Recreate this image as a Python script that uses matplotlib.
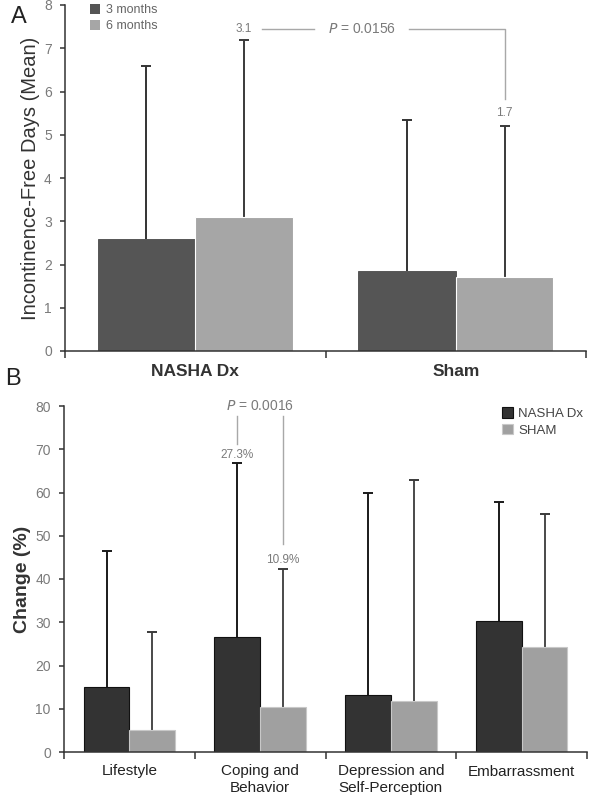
import matplotlib
matplotlib.use("Agg")
import matplotlib.pyplot as plt
import numpy as np

plt.rcParams['font.family'] = ['Liberation Sans', 'DejaVu Sans']

# panel A data
groups_a = ['NASHA Dx', 'Sham']
mean_3m = [2.6, 1.85]
mean_6m = [3.1, 1.7]
sd_3m = [4.0, 3.48]
sd_6m = [4.1, 3.5]
labels_a = ['3 months', '6 months']

# panel B data
domains = ['Lifestyle', 'Coping and\nBehavior', 'Depression and\nSelf-Perception', 'Embarrassment']
nasha = [15.1, 26.5, 13.1, 30.3]
nasha_sd = [31.4, 40.4, 46.9, 27.4]
sham = [5.1, 10.3, 11.7, 24.3]
sham_sd = [22.7, 32.1, 51.1, 30.7]
labels_b = ['NASHA Dx', 'SHAM']

axis_col = '#333333'
tick_col = '#7a7a7a'
note_col = '#a8a8a8'

fig = plt.figure(figsize=(5.89, 8), dpi=100)
axA = fig.add_axes([0.1104, 0.56125, 0.8845, 0.4325])
axB = fig.add_axes([0.1087, 0.06, 0.8880, 0.4325])


def style_axes(ax, ncat):
    for s in ['top', 'right']:
        ax.spines[s].set_visible(False)
    for s in ['left', 'bottom']:
        ax.spines[s].set_color(axis_col)
        ax.spines[s].set_linewidth(1.1)
    ax.set_xlim(-0.5, ncat - 0.5)
    ax.set_xticks(np.arange(ncat + 1) - 0.5)
    ax.set_xticklabels([])
    ax.tick_params(axis='x', direction='out', length=5, width=1.1, color=axis_col)
    ax.tick_params(axis='y', direction='out', length=3.5, width=1.1, color=axis_col,
                   labelcolor=tick_col, labelsize=10, pad=6)
    ax.set_xticks(np.arange(ncat), minor=True)
    ax.tick_params(axis='x', which='minor', length=0, pad=9)


def upper_err(ax, x, y, sd, col, lw):
    # only the upper whisker with its cap
    _, caps, _ = ax.errorbar(x, y, yerr=[np.zeros(len(sd)), sd], fmt='none', ecolor=col,
                             elinewidth=lw, capsize=3.5, capthick=1.4, zorder=1)
    caps[0].set_visible(False)


# ---------- Panel A ----------
xa = np.arange(len(groups_a))
w = 0.375
axA.bar(xa - w / 2, mean_3m, w, color='#555555', edgecolor='#4a4a4a', linewidth=0.6,
        label=labels_a[0], zorder=2)
axA.bar(xa + w / 2, mean_6m, w, color='#a6a6a6', edgecolor='white', linewidth=0.8,
        label=labels_a[1], zorder=2)
upper_err(axA, xa - w / 2, mean_3m, sd_3m, '#333333', 1.4)
upper_err(axA, xa + w / 2, mean_6m, sd_6m, '#3a3a3a', 1.4)
style_axes(axA, 2)
axA.set_ylim(0, 8)
axA.set_yticks(range(0, 9))
axA.set_xticklabels(groups_a, minor=True, fontsize=12.5, fontweight='bold', color='#333333')
axA.set_ylabel('Incontinence-Free Days (Mean)', fontsize=14.5, color='#333333', labelpad=3)

yb = 7.44
xl, xr = xa[0] + w / 2, xa[1] + w / 2
axA.text(xl, yb, '%.1f' % mean_6m[0], ha='center', va='center', fontsize=8.5, color=tick_col)
axA.plot([xl + 0.07, xl + 0.27], [yb, yb], color=note_col, lw=1)
axA.text(0.64, yb, r'$P$ = 0.0156', ha='center', va='center', fontsize=10, color=tick_col)
axA.plot([0.82, xr, xr], [yb, yb, 5.83], color=note_col, lw=1)
axA.text(xr, 5.5, '%.1f' % mean_6m[1], ha='center', va='center', fontsize=8.5, color=tick_col)

legA = axA.legend(loc='upper left', bbox_to_anchor=(0.035, 1.02), frameon=False, fontsize=9,
                  handlelength=0.8, handleheight=0.8, handletextpad=0.5, labelspacing=0.3,
                  borderpad=0)
for t in legA.get_texts():
    t.set_color('#666666')
for h in legA.legend_handles:
    h.set_edgecolor('none')

fig.text(0.018, 0.992, 'A', fontsize=17, color='#222222', va='top', ha='left')

# ---------- Panel B ----------
xb = np.arange(len(domains))
wb = 0.35
axB.bar(xb - wb / 2, nasha, wb, color='#333333', edgecolor='#111111', linewidth=0.8,
        label=labels_b[0], zorder=2)
axB.bar(xb + wb / 2, sham, wb, color='#a0a0a0', edgecolor='#c8c8c8', linewidth=0.8,
        label=labels_b[1], zorder=2)
upper_err(axB, xb - wb / 2, nasha, nasha_sd, '#1a1a1a', 1.4)
upper_err(axB, xb + wb / 2, sham, sham_sd, '#3a3a3a', 1.3)
style_axes(axB, 4)
axB.set_ylim(0, 80)
axB.set_yticks(range(0, 81, 10))
axB.set_xticklabels(domains, minor=True, fontsize=11, color='#222222',
                    family=['Liberation Sans Narrow', 'Liberation Sans', 'DejaVu Sans'])
axB.set_ylabel('Change (%)', fontsize=14, fontweight='bold', color='#333333', labelpad=3)

xn, xs = xb[1] - wb / 2, xb[1] + wb / 2
axB.text((xn + xs) / 2, 80, r'$P$ = 0.0016', ha='center', va='center', fontsize=10, color=tick_col)
axB.plot([xn, xn], [77.7, 71.2], color=note_col, lw=1)
axB.text(xn, 68.7, '%.1f%%' % 27.3, ha='center', va='center', fontsize=8.5, color=tick_col)
axB.plot([xs, xs], [77.7, 48.1], color=note_col, lw=1)
axB.text(xs, 44.4, '%.1f%%' % 10.9, ha='center', va='center', fontsize=8.5, color=tick_col)

legB = axB.legend(loc='upper left', bbox_to_anchor=(0.825, 1.015), frameon=False, fontsize=9.5,
                  handlelength=0.8, handleheight=0.8, handletextpad=0.4, labelspacing=0.3,
                  borderpad=0)
for t in legB.get_texts():
    t.set_color('#444444')

fig.text(0.008, 0.54, 'B', fontsize=17, color='#222222', va='top', ha='left')

fig.savefig('out.png', dpi=100)
